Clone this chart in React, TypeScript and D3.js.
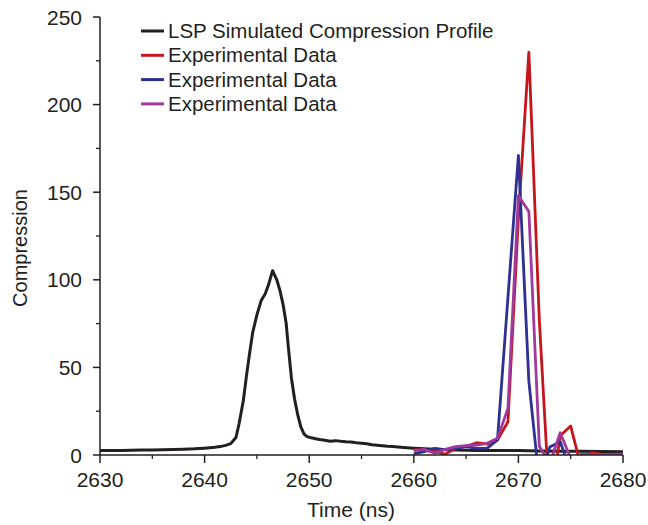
import React from "react";
import * as d3 from "d3";

const simTime = [2630,2631,2632,2633,2634,2635,2636,2637,2638,2639,2640,2641,2641.5,2642,2642.5,2643,2643.3,2643.7,2644,2644.3,2644.6,2645,2645.4,2645.8,2646.1,2646.5,2646.9,2647.2,2647.5,2647.8,2648,2648.3,2648.6,2648.9,2649.2,2649.5,2649.8,2650.2,2650.6,2651,2651.5,2652,2652.5,2653,2653.5,2654,2654.5,2655,2655.5,2656,2656.5,2657,2657.5,2658,2659,2660,2661,2662,2663,2664,2665,2666,2668,2670,2672,2674,2676,2678,2680];
const simValues = [2.5,2.6,2.5,2.7,2.8,2.9,3.0,3.1,3.3,3.5,3.9,4.4,4.8,5.5,6.5,10,18,31,45,58,70,80,88,92,97,105.2,100,94,86,75,62,44,32,23,16,12,10.5,9.8,9.3,8.8,8.4,7.9,8.2,7.8,7.5,7.4,7.0,6.7,6.4,5.9,5.6,5.3,5.0,4.8,4.3,3.9,3.6,3.3,3.1,2.9,2.7,2.6,2.5,2.5,2.3,2.2,2.1,2.0,1.9];

const expTime = [2660,2661,2662,2663,2664,2665,2666,2667,2668,2669,2670,2671,2672,2673,2674,2675,2676,2677,2678,2679,2680];
const expRed = [3.0,2.6,2.0,0.5,3.8,5.0,7.0,6.2,8.5,19,135,230,77,-30,11,16.5,-7,1.3,0.3,-1,-1];
const expBlue = [0.6,1.9,3.8,2.9,3.8,4.8,3.8,3.8,8.6,90,171,42,-15,4.5,7.6,-10,0.3,0.3,0.3,0.3,0.3];
const expPurple = [2.5,3.2,1.0,3.2,4.8,5.3,5.7,6.7,9.5,26.6,148,139,5,-5,12.7,-2,0.4,0.4,0.4,0.4,0.6];

const xTicks = [2630,2640,2650,2660,2670,2680];
const xMinor = [2635,2645,2655,2665,2675];
const yTicks = [0,50,100,150,200,250];
const yMinor = [25,75,125,175,225];

const legendLabels = ["LSP Simulated Compression Profile","Experimental Data","Experimental Data","Experimental Data"];
const colors = ["#231f20","#c4161c","#2e3192","#a0399e"];

export default function App() {
  const W = 648, H = 525;
  const left = 100, right = 623, top = 17, bottom = 455;
  const x = d3.scaleLinear().domain([2630, 2680]).range([left, right]);
  const y = d3.scaleLinear().domain([0, 250]).range([bottom, top]);
  const line = d3.line<[number, number]>().x(d => x(d[0])).y(d => y(d[1]));
  const simPath = line(simTime.map((t, i) => [t, simValues[i]] as [number, number]));
  const exp = [expRed, expBlue, expPurple].map(vals => line(expTime.map((t, i) => [t, vals[i]] as [number, number])));
  const font = "'Liberation Sans', Arial, sans-serif";
  return (
    <svg width={W} height={H} style={{ position: "absolute", left: 0, top: 0, background: "#fff" }} fontFamily={font}>
      <defs>
        <clipPath id="plot">
          <rect x={left} y={top - 10} width={right - left + 2} height={bottom - top + 10} />
        </clipPath>
      </defs>
      <g clipPath="url(#plot)" fill="none" strokeLinejoin="round">
        <path d={simPath || ""} stroke={colors[0]} strokeWidth={3} />
        {exp.map((p, i) => (
          <path key={i} d={p || ""} stroke={colors[i + 1]} strokeWidth={2.8} />
        ))}
      </g>
      <line x1={left} x2={left} y1={top} y2={bottom} stroke="#231f20" strokeWidth={1.5} />
      <line x1={left} x2={right} y1={bottom} y2={bottom} stroke="#231f20" strokeWidth={1.5} />
      {yTicks.map(v => (
        <g key={"y" + v}>
          <line x1={left - 7} x2={left} y1={y(v)} y2={y(v)} stroke="#231f20" strokeWidth={1.5} />
          <text x={left - 18} y={y(v)} dy="0.36em" textAnchor="end" fontSize={21} fill="#231f20">{v}</text>
        </g>
      ))}
      {yMinor.map(v => (
        <line key={"ym" + v} x1={left - 4} x2={left} y1={y(v)} y2={y(v)} stroke="#231f20" strokeWidth={1.3} />
      ))}
      {xTicks.map(v => (
        <g key={"x" + v}>
          <line x1={x(v)} x2={x(v)} y1={bottom} y2={bottom + 8} stroke="#231f20" strokeWidth={1.5} />
          <text x={x(v)} y={bottom + 32} textAnchor="middle" fontSize={21} fill="#231f20">{v}</text>
        </g>
      ))}
      {xMinor.map(v => (
        <line key={"xm" + v} x1={x(v)} x2={x(v)} y1={bottom} y2={bottom + 4} stroke="#231f20" strokeWidth={1.3} />
      ))}
      <text x={351} y={bottom + 62} textAnchor="middle" fontSize={21} fill="#231f20">Time (ns)</text>
      <text transform={`translate(27, 248) rotate(-90)`} textAnchor="middle" fontSize={20} fill="#231f20">Compression</text>
      {legendLabels.map((lab, i) => (
        <g key={"l" + i} transform={`translate(0, ${31 + i * 24.3})`}>
          <line x1={141} x2={164} y1={0} y2={0} stroke={colors[i]} strokeWidth={3} />
          <text x={168} y={0} dy="0.35em" fontSize={20.5} fill="#231f20">{lab}</text>
        </g>
      ))}
    </svg>
  );
}
